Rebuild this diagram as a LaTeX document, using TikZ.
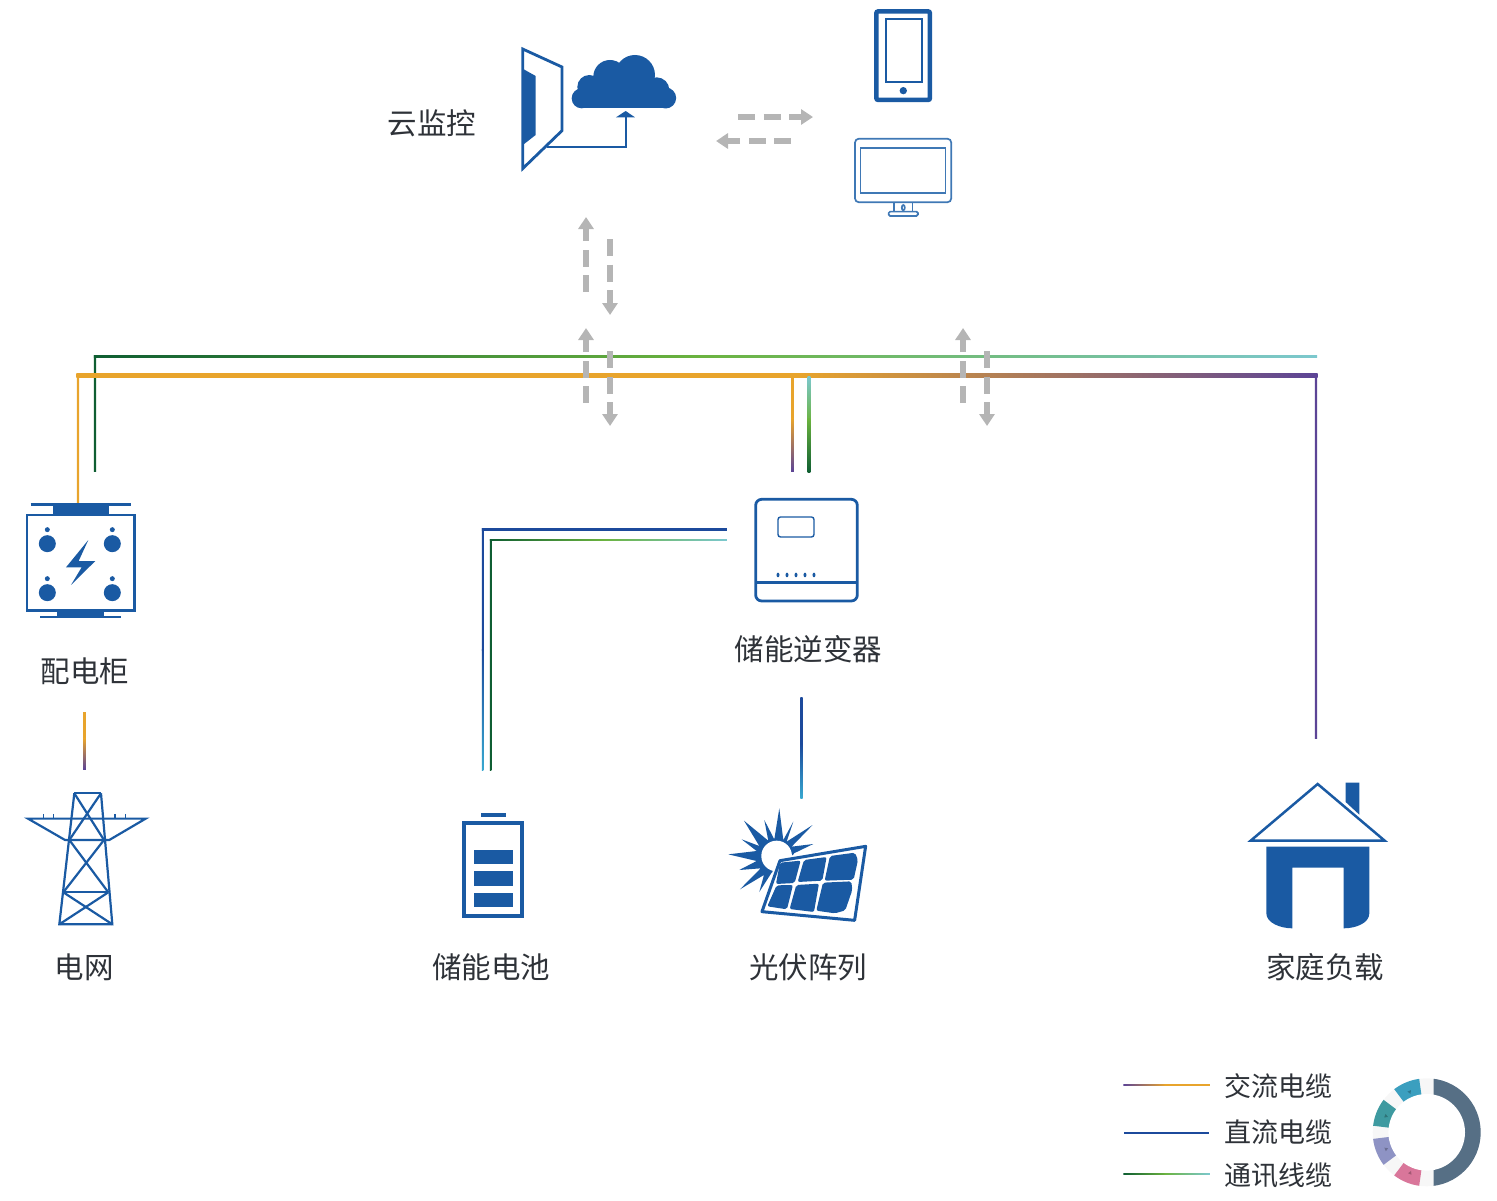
\documentclass[tikz,border=0pt]{standalone}
\usepackage{fontspec}
\setmainfont{Noto Sans CJK SC}
\usetikzlibrary{arrows.meta,calc}
\definecolor{navy}{HTML}{1A5AA3}
\definecolor{monblue}{HTML}{3F78B5}
\definecolor{dcnavy}{HTML}{1C4A9C}
\definecolor{dccyan}{HTML}{38A8D0}
\definecolor{acorange}{HTML}{E8A42C}
\definecolor{acpurple}{HTML}{5C4496}
\definecolor{comdark}{HTML}{0F5E32}
\definecolor{comgreen}{HTML}{6BB33F}
\definecolor{comteal}{HTML}{7CC8CE}
\definecolor{dashgrey}{HTML}{B5B5B5}
\definecolor{labelcol}{HTML}{2E3238}
\definecolor{ringslate}{HTML}{566F85}
\definecolor{segblue}{HTML}{3B9FBF}
\definecolor{segteal}{HTML}{3E9AA0}
\definecolor{segperi}{HTML}{8E93C4}
\definecolor{segpink}{HTML}{D9769A}
\pgfdeclareradialshading{discshade}{\pgfpoint{0bp}{0bp}}{rgb(0bp)=(1,1,1);rgb(34bp)=(1,1,1);rgb(43bp)=(0.96,0.96,0.96);rgb(50bp)=(0.86,0.86,0.86)}
% horizontal run: left end, right end, left colour, right colour, width
\newcommand{\gradh}[5]{%
  \draw[line width=#5pt,line cap=square,color=#3!50!#4] (#1) -- (#2);
  \shade[left color=#3,right color=#4] ($(#1)+(-#5/2,-#5/2)$) rectangle ($(#2)+(#5/2,#5/2)$);
}
% vertical run: top end, bottom end, top colour, bottom colour, width
\newcommand{\gradv}[5]{%
  \draw[line width=#5pt,line cap=square,color=#3!50!#4] (#1) -- (#2);
  \shade[top color=#3,bottom color=#4] ($(#1)+(-#5/2,-#5/2)$) rectangle ($(#2)+(#5/2,#5/2)$);
}
\tikzset{
  every node/.style={inner sep=0pt,outer sep=0pt},
  label29/.style={font=\fontsize{29.5}{31}\selectfont,text=labelcol},
  label27/.style={font=\fontsize{27}{29}\selectfont,text=labelcol},
  dasharrow/.style={draw=dashgrey,line width=5.5pt,dash pattern=on 17pt off 8.5pt,
     -{Triangle[length=12pt,width=15pt]}},
  iconfill/.style={fill=navy,draw=none},
  iconline/.style={draw=navy,line width=2.8pt},
  iconthin/.style={draw=navy,line width=2pt},
  mon/.style={draw=monblue,line width=1.7pt},
  cellpoly/.style={fill=navy,draw=none,rounded corners=2pt},
}
\begin{document}
\begin{tikzpicture}[x=1pt,y=-1pt]
\useasboundingbox (0,0) rectangle (1497,1200);

% ---- routing coordinates
\coordinate (acL) at (78,375.5);
\coordinate (acLb) at (78,503);
\coordinate (acM) at (800,375.5);
\coordinate (acR) at (1316,375.5);
\coordinate (acRb) at (1316,737);
\coordinate (comL) at (95,356.5);
\coordinate (comLb) at (95,470);
\coordinate (comM) at (700,356.5);
\coordinate (comR) at (1316,356.5);
\coordinate (invAt) at (792.5,378);
\coordinate (invAm) at (792.5,420);
\coordinate (invAb) at (792.5,470);
\coordinate (invCt) at (809,378);
\coordinate (invCm) at (809,420);
\coordinate (invCb) at (809,471);
\coordinate (batDr) at (726,529.5);
\coordinate (batDc) at (482.5,529.5);
\coordinate (batDm) at (482.5,650);
\coordinate (batDb) at (482.5,770);
\coordinate (batCr) at (726,540);
\coordinate (batCm) at (603,540);
\coordinate (batCc) at (490.5,540);
\coordinate (batCb) at (490.5,770);
\coordinate (pvT) at (801.5,699);
\coordinate (pvM) at (801.5,745);
\coordinate (pvB) at (801.5,797);
\coordinate (gridT) at (84.5,714);
\coordinate (gridM) at (84.5,740);
\coordinate (gridB) at (84.5,768);

% ---- cables
\gradv{comL}{comLb}{comdark}{comdark}{2.4}
\gradh{comL}{comM}{comdark}{comgreen}{2.4}
\gradh{comM}{comR}{comgreen}{comteal}{2.4}
\gradv{acL}{acLb}{acorange}{acorange}{2.4}
\gradh{acL}{acM}{acorange}{acorange}{3.2}
\gradh{acM}{acR}{acorange}{acpurple}{3.2}
\gradv{acR}{acRb}{acpurple}{acpurple}{2.4}
\gradv{invAt}{invAm}{acorange}{acorange}{2.6}
\gradv{invAm}{invAb}{acorange}{acpurple}{2.6}
\gradv{invCt}{invCm}{comteal}{comgreen}{2.6}
\gradv{invCm}{invCb}{comgreen}{comdark}{2.6}
\gradh{batDc}{batDr}{dcnavy}{dcnavy}{1.5}
\gradv{batDc}{batDm}{dcnavy}{dcnavy}{1.5}
\gradv{batDm}{batDb}{dcnavy}{dccyan}{1.5}
\gradh{batCm}{batCr}{comgreen}{comteal}{1.5}
\gradh{batCc}{batCm}{comdark}{comgreen}{1.5}
\gradv{batCc}{batCb}{comdark}{comdark}{1.5}
\gradv{pvT}{pvM}{dcnavy}{dcnavy}{2.4}
\gradv{pvM}{pvB}{dcnavy}{dccyan}{2.4}
\gradv{gridT}{gridM}{acorange}{acorange}{2.6}
\gradv{gridM}{gridB}{acorange}{acpurple}{2.6}

% ---- dashed grey arrows
\coordinate (a1s) at (738,117); \coordinate (a1e) at (813,117);
\coordinate (a2s) at (791,141); \coordinate (a2e) at (716,141);
\coordinate (a3s) at (586,292); \coordinate (a3e) at (586,217);
\coordinate (a4s) at (610,239); \coordinate (a4e) at (610,315);
\coordinate (a5s) at (586,403); \coordinate (a5e) at (586,328);
\coordinate (a6s) at (610,351); \coordinate (a6e) at (610,426);
\coordinate (a7s) at (963,403); \coordinate (a7e) at (963,328);
\coordinate (a8s) at (987,351); \coordinate (a8e) at (987,426);
\foreach \n in {1,...,8}{\draw[dasharrow] (a\n s) -- (a\n e);}

% ---- cloud monitor icon, phone, monitor (zoom frame 500,0)
\begin{scope}[shift={(500,0)},x=0.3333pt,y=-0.3333pt]
  \fill[iconfill] (66,205) -- (107,228) -- (107,405) -- (66,437) -- cycle;
  \draw[iconline,line join=miter] (68,147) -- (186,201) -- (186,392) -- (68,506) -- cycle;
  \draw[iconline,line width=2.2pt] (140,440) -- (377,440) -- (377,350);
  \fill[iconfill] (348,352) -- (377,333) -- (405,352) -- cycle;
  % cloud
  \fill[iconfill] (245,295) circle[radius=30];
  \fill[iconfill] (245,325) rectangle (500,265);
  \fill[iconfill] (268,261) circle[radius=36];
  \fill[iconfill] (330,230) circle[radius=50];
  \fill[iconfill] (405,225) circle[radius=60];
  \fill[iconfill] (470,270) circle[radius=38];
  \fill[iconfill] (497,294) circle[radius=31.5];
  % phone
  \draw[draw=navy,line width=4.5pt,rounded corners=2pt] (1129,34) rectangle (1290,300);
  \draw[iconthin] (1157,57) rectangle (1265,245);
  \fill[iconfill] (1210,272) circle[radius=11];
  % monitor
  \draw[mon,rounded corners=4pt] (1065,416) rectangle (1354,607);
  \draw[mon] (1082,445) rectangle (1337,578);
  \draw[mon] (1182,607) -- (1182,635);
  \draw[mon] (1238,607) -- (1238,635);
  \draw[mon,rounded corners=1.5pt] (1166,635) rectangle (1254,648);
  \draw[mon] (1210,623) ellipse[x radius=4.5,y radius=8];
\end{scope}
\node[label29] (cloudtxt) at (432,123.5) {云监控};

% ---- distribution cabinet (zoom frame 0,490)
\begin{scope}[shift={(0,490)},x=0.3333pt,y=-0.3333pt]
  \draw[iconline] (92,44) -- (392,44);
  \fill[iconfill] (159,44) rectangle (326,75);
  \draw[iconline] (81,75) rectangle (404,362);
  \fill[iconfill] (172,362) rectangle (312,382);
  \draw[iconline] (121,381) -- (363,381);
  \foreach \px/\py in {142/161,337/161,142/308,337/308}{
    \fill[iconfill] (\px,\py) circle[radius=25.5];
    \fill[iconfill] (\px,\py-42) circle[radius=7.5];
  }
  \fill[iconfill] (265,150) -- (198,232) -- (245,232) -- (213,285) -- (286,213) -- (236,213) -- cycle;
  % tower
  \begin{scope}[draw=navy,line width=2.2pt]
    \draw (223,910) -- (303,910);
    \draw (223,910) -- (178,1303) -- (337,1303) -- (303,910);
    \draw (84,986) -- (437,986) -- (328,1050) -- (195,1050) -- cycle;
    \draw (190,1207) -- (325,1207);
    \draw (223,910) -- (312,1050);
    \draw (303,910) -- (208,1050);
    \draw (208,1050) -- (325,1207);
    \draw (312,1050) -- (190,1207);
    \draw (190,1207) -- (337,1303);
    \draw (325,1207) -- (178,1303);
    \foreach \tx in {130,161,345,377}{\draw[line width=1.2pt] (\tx,972) -- (\tx,986);}
  \end{scope}
\end{scope}
\node[label29] (cabinettxt) at (85,671) {配电柜};
\node[label29] (gridtxt) at (84,967) {电网};

% ---- battery and PV (zoom frame 440,790)
\begin{scope}[shift={(440,790)},x=0.3333pt,y=-0.3333pt]
  \fill[iconfill] (123,68) rectangle (197,82);
  \draw[draw=navy,line width=4pt] (73,100) rectangle (246,378);
  \fill[iconfill] (101,181) rectangle (218,223);
  \fill[iconfill] (101,244) rectangle (218,287);
  \fill[iconfill] (101,308) rectangle (218,350);
  % sun
  \fill[iconfill] (865,193) -- (950,183) -- (905,148) -- (958,168) -- (912,92) -- (985,152)
     -- (973,90) -- (1003,148) -- (1018,55) -- (1030,150) -- (1060,95) -- (1040,155)
     -- (1118,105) -- (1055,170) -- (1120,162) -- (1062,190) -- (1030,250) -- (995,248)
     -- (958,306) -- (972,255) -- (900,298) -- (962,235) -- (898,240) -- (950,213) -- cycle;
  \fill[white] (1010,198) circle[radius=46];
  % panel
  \fill[white] (1012,203) -- (1284,160) -- (1250,400) -- (955,372) -- cycle;
  \draw[draw=navy,line width=3pt,line join=round] (1020,212) -- (1277,169) -- (1244,391) -- (966,365) -- cycle;
  \fill[cellpoly] (1020,218) -- (1082,212) -- (1064,279) -- (1008,282) -- cycle;
  \fill[cellpoly] (1092,210) -- (1160,201) -- (1147,272) -- (1073,276) -- cycle;
  \fill[cellpoly] (1170,198) -- (1245,188) -- (1254,210) -- (1241,269) -- (1154,272) -- cycle;
  \fill[cellpoly] (1010,286) -- (1059,285) -- (1041,358) -- (982,349) -- cycle;
  \fill[cellpoly] (1069,285) -- (1137,281) -- (1122,366) -- (1049,357) -- cycle;
  \fill[cellpoly] (1149,278) -- (1234,274) -- (1237,300) -- (1216,361) -- (1185,370) -- (1129,362) -- cycle;
\end{scope}
\node[label29] (battxt) at (491,967) {储能电池};
\node[label29] (pvtxt) at (808,967) {光伏阵列};

% ---- inverter (zoom frame 720,340)
\begin{scope}[shift={(720,340)},x=0.3333pt,y=-0.3333pt]
  \draw[draw=navy,line width=2.8pt,rounded corners=6pt] (107,478) rectangle (412,783);
  \draw[draw=navy,line width=2.8pt] (107,727) -- (412,727);
  \draw[draw=navy,line width=1.4pt,rounded corners=2.5pt] (174,531) rectangle (282,591);
  \foreach \dx in {174,201,228,255,282}{\fill[iconfill] (\dx,705) ellipse[x radius=4.5,y radius=7];}
\end{scope}
\node[label29] (invtxt) at (808.5,649) {储能逆变器};

% ---- house (zoom frame 1230,770)
\begin{scope}[shift={(1230,770)},x=0.3333pt,y=-0.3333pt]
  \fill[iconfill] (347,38) -- (388,38) -- (388,134) -- (347,96) -- cycle;
  \draw[draw=navy,line width=2.5pt,line join=miter] (263,42) -- (464,212) -- (62,212) -- cycle;
  \fill[iconfill] (109,230) -- (418,230) -- (418,430) .. controls (418,458) and (380,475) .. (341,475)
     -- (341,293) -- (187,293) -- (187,475) .. controls (150,475) and (109,458) .. (109,430) -- cycle;
\end{scope}
\node[label29] (housetxt) at (1325,967) {家庭负载};

% ---- legend
\coordinate (l1a) at (1124,1085); \coordinate (l1m) at (1165,1085); \coordinate (l1b) at (1209,1085);
\coordinate (l2a) at (1124,1133); \coordinate (l2b) at (1209,1133);
\coordinate (l3a) at (1124,1174); \coordinate (l3m) at (1165,1174); \coordinate (l3b) at (1209,1174);
\gradh{l1a}{l1m}{acpurple}{acorange}{1.5}
\gradh{l1m}{l1b}{acorange}{acorange}{1.5}
\draw[draw=dcnavy,line width=2.4pt] (l2a) -- (l2b);
\gradh{l3a}{l3m}{comdark}{comgreen}{1.5}
\gradh{l3m}{l3b}{comgreen}{comteal}{1.5}
\node[label27] (lg1) at (1278,1086) {交流电缆};
\node[label27] (lg2) at (1278,1132) {直流电缆};
\node[label27] (lg3) at (1278,1175) {通讯线缆};

% ---- donut
\begin{scope}[shift={(1426.7,1132.3)},x=1pt,y=1pt]
  \fill[gray!6] (0,0) circle[radius=54];
  \begin{scope}
    \clip (7,-56) rectangle (56,56);
    \fill[ringslate] (0,0) circle[radius=54];
  \end{scope}
  \foreach \sa/\sb/\col in {98/127/segblue,143/173/segteal,187/217/segperi,233/262/segpink}{
    \fill[\col] (\sa:54) arc[start angle=\sa,end angle=\sb,radius=54]
       -- (\sb:36) arc[start angle=\sb,end angle=\sa,radius=36] -- cycle;
    \pgfmathsetmacro{\sm}{(\sa+\sb)/2}
    \fill[\col!75!black] (\sm:45) ++(\sm+90:2.2) -- ++(\sm+90+120:3.8) -- ++(\sm+90+240:3.8) -- cycle;
  }
  \shade[shading=discshade] (0,0) circle[radius=38.3];
\end{scope}
\end{tikzpicture}
\end{document}
